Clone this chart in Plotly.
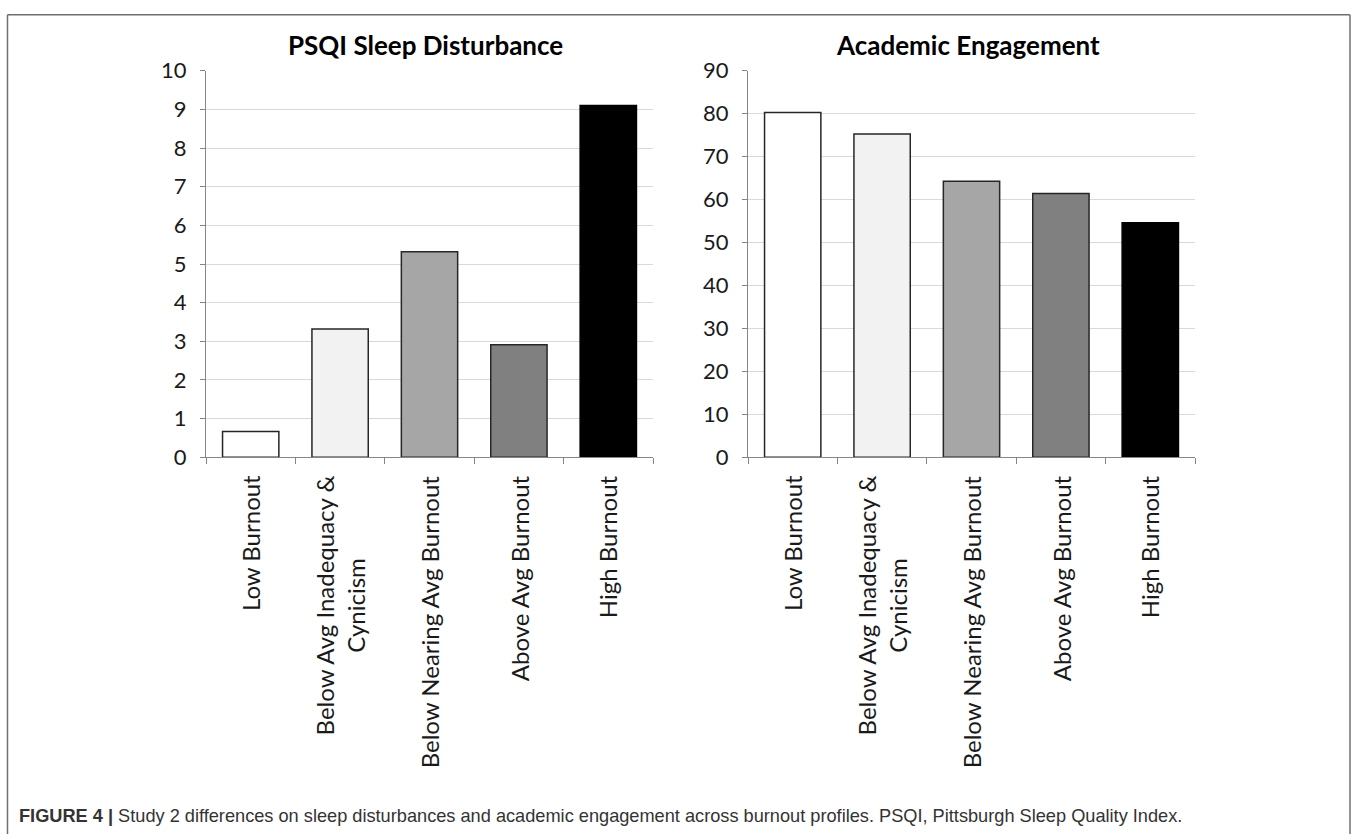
import plotly.graph_objects as go

W, H = 1357, 839

categories = ["Low Burnout", "Below Avg Inadequacy & Cynicism", "Below Nearing Avg Burnout",
              "Above Avg Burnout", "High Burnout"]
category_labels = ["Low Burnout", "Below Avg Inadequacy &<br>Cynicism", "Below Nearing Avg Burnout",
                   "Above Avg Burnout", "High Burnout"]
psqi_values = [0.67, 3.32, 5.32, 2.91, 9.10]
engagement_values = [80.3, 75.3, 64.3, 61.4, 54.6]
bar_colors = ["#ffffff", "#f2f2f2", "#a6a6a6", "#808080", "#000000"]
outline_colors = ["#262626", "#262626", "#262626", "#262626", "#000000"]
psqi_title = "PSQI Sleep Disturbance"
engagement_title = "Academic Engagement"
caption = ("<b>FIGURE 4 |</b> Study 2 differences on sleep disturbances and academic engagement "
           "across burnout profiles. PSQI, Pittsburgh Sleep Quality Index.")

# vertical calibration of the photographed page (observed = OFF + SC * layout px)
OFF, SC = 14.3, 0.9665

def px_x(p):
    return p / W

def px_y(p):
    q = (p - OFF) / SC
    q = max(q, 0.75)
    return 1 - q / H

dom1 = [px_x(206), px_x(653)]
dom2 = [px_x(748), px_x(1195)]
ydom = [px_y(457), px_y(71)]

fig = go.Figure()
fig.add_trace(go.Bar(x=categories, y=psqi_values, width=0.63,
                     marker=dict(color=bar_colors, line=dict(color=outline_colors, width=1.5)),
                     xaxis="x", yaxis="y", showlegend=False, hoverinfo="x+y"))
fig.add_trace(go.Bar(x=categories, y=engagement_values, width=0.63,
                     marker=dict(color=bar_colors, line=dict(color=outline_colors, width=1.5)),
                     xaxis="x2", yaxis="y2", showlegend=False, hoverinfo="x+y"))

tick_font = dict(family="Lato", size=22, color="#1a1a1a")
cat_font = dict(family="Lato", size=24, color="#1a1a1a")
axis_col = "#868686"

xcommon = dict(type="category", tickson="boundaries", ticks="outside", ticklen=6,
               tickcolor=axis_col, showline=True, linecolor=axis_col, linewidth=1,
               showticklabels=False, showgrid=False, zeroline=False, fixedrange=True)
ycommon = dict(ticks="outside", ticklen=5, tickcolor=axis_col, showline=True,
               linecolor=axis_col, linewidth=1, showgrid=True, gridcolor="#d9d9d9",
               gridwidth=1, zeroline=False, tickfont=tick_font, ticklabelstandoff=9,
               fixedrange=True)

fig.update_layout(
    width=W, height=H,
    margin=dict(l=0, r=0, t=0, b=0),
    paper_bgcolor="white", plot_bgcolor="white",
    bargap=0.37,
    xaxis=dict(domain=dom1, anchor="y", **xcommon),
    yaxis=dict(domain=ydom, anchor="x", range=[0, 10], dtick=1, **ycommon),
    xaxis2=dict(domain=dom2, anchor="y2", **xcommon),
    yaxis2=dict(domain=ydom, anchor="x2", range=[0, 90], dtick=10, **ycommon),
)

annotations = []
for xa in ["x", "x2"]:
    for cat, lab in zip(categories, category_labels):
        annotations.append(dict(x=cat, xref=xa, y=px_y(473), yref="paper",
                                text=lab, textangle=-90, showarrow=False,
                                xanchor="center", yanchor="top", align="center",
                                font=cat_font))

title_font = dict(family="Lato", size=26, color="#000000")
annotations.append(dict(x=px_x(425), y=px_y(45), xref="paper", yref="paper",
                        text="<b>" + psqi_title + "</b>", showarrow=False,
                        xanchor="center", yanchor="middle", font=title_font))
annotations.append(dict(x=px_x(967.5), y=px_y(45), xref="paper", yref="paper",
                        text="<b>" + engagement_title + "</b>", showarrow=False,
                        xanchor="center", yanchor="middle", font=title_font))
annotations.append(dict(x=px_x(17), y=px_y(815), xref="paper", yref="paper",
                        text=caption, showarrow=False, xanchor="left", yanchor="middle",
                        font=dict(family="Liberation Sans", size=18.2, color="#333333")))
fig.update_layout(annotations=annotations)

frame_col = "#6f6f6f"
shapes = [
    dict(type="line", xref="paper", yref="paper", x0=px_x(7.5), x1=px_x(7.5), y0=px_y(8), y1=-0.01,
         line=dict(color=frame_col, width=1.5)),
    dict(type="line", xref="paper", yref="paper", x0=px_x(7.5), x1=px_x(1350), y0=px_y(8), y1=px_y(8),
         line=dict(color=frame_col, width=1.5)),
    dict(type="line", xref="paper", yref="paper", x0=px_x(1350), x1=px_x(1350), y0=px_y(8), y1=-0.01,
         line=dict(color=frame_col, width=1.5)),
]
fig.update_layout(shapes=shapes)

fig.write_html("out.html", config={"displayModeBar": False},
               post_script="document.body.style.margin='0';document.body.style.overflow='hidden';")
